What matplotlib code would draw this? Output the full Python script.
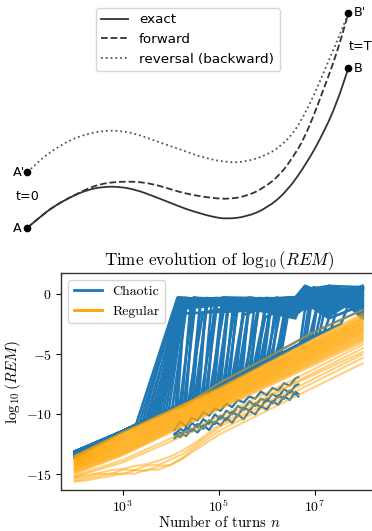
import matplotlib
matplotlib.use("Agg")
import matplotlib.pyplot as plt
from matplotlib.lines import Line2D
from matplotlib.path import Path
from matplotlib.patches import PathPatch
import numpy as np

# ---------------- top schematic data (horizontal position, vertical position; y grows downward) -------------
exact_x = [26.7, 40, 53.3, 70, 86.7, 103.3, 120, 136.7, 153, 170, 186.7, 200, 213.3, 226.7, 246.7, 266.7, 286.7, 306.7, 323.3, 336.7, 348.3]
exact_y = [228.3, 217, 206.7, 197.3, 190, 186.7, 186.7, 190, 196, 202.7, 209.3, 213.3, 217, 219, 216.7, 208.3, 191.7, 163.3, 133.3, 103.3, 68.3]
forward_x = [26.7, 40, 53.3, 70, 78, 88, 98, 110, 122, 136.7, 153, 170, 186.7, 213.3, 230, 246.7, 263.3, 280, 293.3, 303.3, 313.3, 321, 333.3, 341.7, 348.3]
forward_y = [228.3, 217, 206.7, 197.3, 193.5, 188.5, 184.8, 182.5, 181.7, 181.7, 184, 189, 194, 198.3, 199, 196, 188.3, 175, 156.7, 140, 116.7, 96, 63.3, 36.7, 13.3]
reversal_x = [27.3, 40, 53.3, 70, 86.7, 103.3, 120, 136.7, 153, 170, 186.7, 200, 226.7, 246.7, 266.7, 280, 293.3, 303.3, 313.3, 323.3, 333.3, 341.7, 348.3]
reversal_y = [172.3, 160, 150, 140, 134, 130.7, 130.7, 134, 140, 146, 151.7, 156.7, 162.7, 161.7, 155, 146.7, 133.3, 116.7, 96.7, 73.3, 50, 30, 13.3]
point_x = [26.7, 27.3, 348.3, 348.3]
point_y = [228.3, 172.3, 68.3, 13.3]
point_labels = ["A", "A'", "B", "B'"]

# ---------------- bottom chart data (log10 n, log10 REM) ----------------
# regular orbits: values at log10 n = 2, 3, 5, 8
reg_n = [2, 3, 5, 8]
reg_curves = [
    (-13.45, -11.5, -7.8, -1.6), (-13.5, -11.55, -7.85, -1.75), (-13.55, -11.6, -7.9, -1.85),
    (-13.6, -11.7, -8.0, -1.95), (-13.65, -11.75, -8.05, -2.05), (-13.7, -11.85, -8.1, -2.1),
    (-13.75, -11.9, -8.2, -2.2), (-13.8, -12.0, -8.25, -2.3), (-13.85, -12.05, -8.3, -2.35),
    (-13.9, -12.15, -8.4, -2.45), (-13.95, -12.2, -8.45, -2.5), (-14.0, -12.3, -8.5, -2.6),
    (-14.05, -12.35, -8.6, -2.7), (-14.1, -12.45, -8.65, -2.75), (-14.15, -12.5, -8.7, -2.85),
    (-14.2, -12.6, -8.8, -2.9), (-14.25, -12.65, -8.85, -3.0), (-14.3, -12.75, -8.9, -3.1),
    (-14.35, -12.8, -9.0, -3.15), (-14.45, -12.9, -9.05, -3.25), (-14.5, -12.95, -9.1, -3.35),
    (-14.55, -13.05, -9.2, -3.45), (-14.6, -13.1, -9.25, -3.55), (-14.7, -13.2, -9.35, -3.65),
    (-14.75, -13.25, -9.4, -3.75), (-14.85, -13.35, -9.5, -3.85), (-14.95, -13.4, -9.6, -4.0),
    (-15.1, -13.8, -10.2, -4.2), (-15.2, -14.0, -10.5, -4.5),
]
# lower, wiggly regular orbits
wig_n = [2, 2.25, 2.5, 2.75, 3.0, 3.25, 3.5, 3.75, 4.0, 4.25, 4.5, 5.0, 6.5, 8.0]
wig_curves = [
    [-15.6, -15.5, -15.3, -15.15, -14.9, -14.95, -14.6, -14.6, -14.2, -13.7, -13.0, -11.7, -8.7, -5.75],
    [-15.5, -15.35, -15.15, -14.9, -15.0, -14.65, -14.7, -14.3, -14.2, -13.6, -12.8, -11.4, -8.3, -5.3],
    [-15.35, -15.2, -14.95, -15.0, -14.6, -14.65, -14.25, -14.2, -13.75, -13.3, -12.6, -11.1, -8.0, -5.0],
    [-15.25, -15.05, -14.9, -14.65, -14.55, -14.3, -14.15, -13.85, -13.5, -13.0, -12.4, -10.9, -7.6, -4.8],
]

# chaotic orbits: common early path, departure from the band, arrival on the plateau, plateau values
band_n = [2, 3, 4, 5, 6, 7]
band_top = [-13.3, -11.4, -9.6, -7.75, -5.6, -3.5]
chaotic_start = [-13.1, -13.2, -13.3, -13.15, -13.4, -13.25, -13.5, -13.2, -13.35, -13.6, -13.1, -13.45, -13.3, -13.55,
                 -13.2, -13.4, -13.1, -13.3, -13.5, -13.25, -13.15, -13.45, -13.35, -13.6,
                 -13.2, -13.3, -13.1, -13.4, -13.5, -13.25, -13.35, -13.15, -13.45, -13.3,
                 -13.2, -13.55, -13.4, -13.1, -13.3, -13.25, -13.2, -13.4, -13.3, -13.5,
                 -13.15, -13.35, -13.25, -13.45, -13.1, -13.3, -13.2, -13.4, -13.3, -13.5,
                 -13.15, -13.35, -13.25, -13.45, -13.1, -13.3, -13.2, -13.4, -13.3, -13.5,
                 -13.2, -13.4, -13.3, -13.5, -13.15, -13.35, -13.25, -13.45, -13.1, -13.3]
chaotic_jump_n = [3.28, 3.35, 3.42, 3.48, 3.53, 3.58, 3.63, 3.68, 3.73, 3.78, 3.84, 3.9, 3.96, 4.03,
                  4.10, 4.14, 4.19, 4.23, 4.28, 4.32, 4.37, 4.41, 4.46, 4.50,
                  4.55, 4.59, 4.64, 4.68, 4.73, 4.77, 4.82, 4.86, 4.91, 4.95,
                  5.00, 5.04, 5.09, 5.13, 5.18, 5.22, 5.27, 5.31, 5.36, 5.40,
                  5.45, 5.49, 5.54, 5.58, 5.63, 5.67, 5.72, 5.76, 5.81, 5.85,
                  5.90, 5.94, 5.99, 6.03, 6.08, 6.12, 6.17, 6.21, 6.26, 6.30,
                  6.7, 6.76, 6.82, 6.88, 6.95, 7.02, 7.1, 7.2, 7.35, 7.55]
chaotic_jump_val = [-10.82, -10.7, -10.59, -10.48, -10.4, -10.31, -10.23, -10.14, -10.06, -9.97, -9.87, -9.77, -9.67, -9.55,
                    -9.42, -9.34, -9.25, -9.17, -9.08, -9.01, -8.92, -8.84, -8.75, -8.68,
                    -8.58, -8.51, -8.42, -8.34, -8.25, -8.18, -8.08, -8.01, -7.92, -7.84,
                    -7.75, -7.66, -7.56, -7.47, -7.36, -7.28, -7.17, -7.08, -6.98, -6.89,
                    -6.78, -6.70, -6.59, -6.50, -6.40, -6.31, -6.20, -6.12, -6.01, -5.92,
                    -5.82, -5.73, -5.62, -5.54, -5.43, -5.35, -5.24, -5.16, -5.05, -4.97,
                    -4.13, -4.0, -3.88, -3.75, -3.61, -3.46, -3.31, -3.12, -2.84, -2.46]
chaotic_peak_n = [4.14, 4.16, 4.15, 4.18, 4.17, 4.2, 4.19, 4.22, 4.2, 4.24, 4.23, 4.27, 4.3, 4.33,
                  4.30, 4.29, 4.47, 4.41, 4.52, 4.48, 4.67, 4.62, 4.63, 4.76,
                  4.75, 4.74, 4.92, 4.86, 4.97, 4.93, 5.12, 5.07, 5.08, 5.21,
                  5.20, 5.19, 5.37, 5.31, 5.42, 5.38, 5.57, 5.52, 5.53, 5.66,
                  5.65, 5.64, 5.82, 5.76, 5.87, 5.83, 6.02, 5.97, 5.98, 6.11,
                  6.10, 6.09, 6.27, 6.21, 6.32, 6.28, 6.47, 6.42, 6.43, 6.50,
                  6.85, 6.9, 6.98, 7.05, 7.1, 7.2, 7.3, 7.4, 7.55, 7.75]
chaotic_level = [-0.3, -0.5, -0.25, -0.8, -0.4, -1.2, -0.3, -0.6, -1.6, -0.35, -0.9, -0.5, -0.3, -1.0,
                 -0.4, -0.7, -0.3, -1.1, -0.5, -0.25, -1.5, -0.6, -0.35, -0.9,
                 -0.3, -0.5, -1.3, -0.4, -0.7, -0.3, -1.0, -0.5, -0.25, -0.8,
                 -0.45, -1.4, -0.3, -0.6, -0.4, -0.9, -0.3, -1.7, -0.5, -0.35,
                 -0.7, -0.25, -1.2, -0.55, -0.3, -0.8, -0.4, -1.9, -0.3, -0.6,
                 -0.35, -1.0, -0.5, -0.25, -0.75, -0.4, -1.3, -0.3, -0.6, -0.45,
                 0.3, -0.5, 0.6, -1.0, 0.2, -0.3, 0.5, -0.8, 0.1, -0.4]
plateau_n = [6.6, 6.8, 7.3, 8.0]
chaotic_p66 = [-0.6, -0.3, -1.0, -0.4, -1.8, -0.25, -0.7, -0.35, -1.2, -0.5, -0.3, -0.9, -1.5, -0.4,
               -0.3, -1.1, -0.5, -0.25, -0.8, -1.6, -0.4, -0.3, -1.0, -0.6,
               -2.0, -0.35, -0.7, -0.3, -1.3, -0.5, -0.25, -0.9, -0.4, -1.7,
               -0.3, -0.6, -1.1, -0.45, -0.3, -0.8, -0.5, -0.25, -1.4, -0.6,
               -0.35, -0.9, -0.3, -0.7, -1.2, -0.4, -0.25, -0.8, -0.5, -1.5,
               -0.3, -0.6, -0.4, -1.0, -0.3, -0.7, -0.5, -0.35, -0.9, -0.4,
               -0.5, -0.5, -0.5, -0.5, -0.5, -0.5, -0.5, -0.5, -0.5, -0.5]
chaotic_p68 = [0.5, -0.2, 0.2, -0.6, 0.7, 0.0, -0.3, 0.4, -1.0, 0.1, 0.6, -0.4, -0.1, 0.3,
               -0.5, 0.4, 0.0, 0.7, -0.2, -0.9, 0.3, -0.1, 0.5, -0.6,
               0.2, -1.3, 0.6, -0.3, 0.1, -0.7, 0.4, -0.2, 0.0, -1.1,
               0.5, -0.4, 0.2, -0.8, 0.3, -0.1, 0.6, -0.5, 0.1, -1.0,
               0.4, -0.3, 0.7, -0.6, 0.0, 0.3, -1.2, 0.5, -0.2, 0.2,
               -0.7, 0.6, -0.1, 0.3, -0.9, 0.4, 0.0, -0.4, 0.5, -0.3,
               0.0, 0.0, 0.0, 0.0, 0.0, 0.0, 0.0, 0.0, 0.0, 0.0]
chaotic_p73 = [-0.2, 0.6, -0.8, 0.3, -0.1, 0.7, -1.4, 0.0, 0.4, -0.5, 0.2, -1.8, 0.5, -0.3,
               0.1, -0.6, 0.5, -0.2, 0.7, -1.0, 0.3, -0.4, 0.0, 0.6,
               -1.5, 0.2, -0.7, 0.4, -0.1, -2.0, 0.5, -0.3, 0.3, -0.9,
               0.0, 0.6, -1.2, 0.2, -0.5, 0.4, -0.8, 0.7, -0.2, 0.1,
               -1.4, 0.5, -0.4, 0.2, -0.6, 0.6, -0.1, -1.7, 0.3, -0.3,
               0.5, -1.0, 0.1, 0.4, -0.5, 0.7, -1.3, 0.2, -0.2, 0.3,
               0.4, -0.6, 0.1, -1.2, 0.5, -0.2, 0.0, -1.5, 0.3, -0.8]
chaotic_p80 = [0.3, -0.4, 0.6, -1.0, 0.1, -0.2, 0.5, -1.6, 0.2, -0.6, 0.4, -0.1, -2.0, 0.7,
               -0.3, 0.5, -0.8, 0.2, -0.1, 0.6, -1.3, 0.3, -0.5, 0.0,
               0.4, -1.8, 0.1, -0.4, 0.6, -0.9, 0.2, -0.2, 0.5, -1.1,
               0.3, -0.6, 0.0, 0.4, -1.4, 0.1, 0.6, -0.7, 0.2, -0.3,
               0.5, -1.0, 0.3, -0.5, 0.7, -0.1, -1.6, 0.4, -0.2, 0.1,
               -0.8, 0.5, -0.4, 0.2, -1.2, 0.6, 0.0, -0.6, 0.3, -0.9,
               0.2, -0.3, 0.5, -0.7, 0.0, -1.2, 0.4, -0.5, 0.6, -1.0]
# chaotic orbits that stay low and stop early
stranded_n = [4.08, 4.2, 4.32, 4.44, 4.56, 4.68, 4.8, 4.92, 5.04, 5.16, 5.28, 5.4, 5.52, 5.64,
              5.76, 5.88, 6.0, 6.12, 6.24, 6.36, 6.48, 6.6, 6.66]
stranded_curves = [
    [-11.3, -10.6, -11.0, -10.3, -10.5, -9.8, -10.1, -9.5, -9.7, -9.1, -9.4, -8.8, -9.0, -8.5, -8.7, -8.1, -8.4, -7.8, -8.0, -7.4, -7.6, -7.0, -6.9],
    [-11.7, -11.2, -11.5, -10.7, -11.1, -10.4, -10.8, -10.0, -10.4, -9.7, -10.0, -9.3, -9.6, -8.9, -9.3, -8.7, -8.9, -8.3, -8.6, -7.9, -8.2, -7.6, -7.5],
    [-12.0, -11.5, -11.8, -11.2, -11.5, -10.9, -11.3, -10.6, -10.9, -10.3, -10.7, -10.0, -10.4, -9.7, -10.0, -9.3, -9.6, -8.9, -9.2, -8.5, -8.8, -8.1, -8.3],
    [-11.6, -11.9, -11.1, -11.4, -10.8, -11.2, -10.5, -10.8, -10.1, -10.5, -9.8, -10.1, -9.4, -9.7, -9.1, -9.4, -8.7, -9.1, -8.4, -8.7, -8.0, -8.3, -8.5],
]
upper_n = [4.2, 4.4, 5.0, 6.0, 7.0, 8.0]
upper_val = [-9.4, -9.0, -7.4, -5.3, -3.1, -1.3]

x_ticks = [1e3, 1e5, 1e7]
y_ticks = [0, -5, -10, -15]

BLUE = "#1f77b4"
ORANGE = "orange"

plt.rcParams["font.family"] = "cmr10"
plt.rcParams["mathtext.fontset"] = "cm"
plt.rcParams["axes.formatter.use_mathtext"] = True

W, H = 372, 531
fig = plt.figure(figsize=(W / 100, H / 100), dpi=100)

# ---------------- top schematic ----------------
top_h = 245
ax0 = fig.add_axes([0, 1 - top_h / H, 1, top_h / H])
ax0.set_xlim(0, W)
ax0.set_ylim(top_h, 0)
ax0.axis("off")


def smooth(xs, ys):
    verts = [(xs[0], ys[0])]
    codes = [Path.MOVETO]
    for i in range(1, len(xs) - 1):
        verts += [(xs[i], ys[i]), ((xs[i] + xs[i + 1]) / 2, (ys[i] + ys[i + 1]) / 2)]
        codes += [Path.CURVE3, Path.CURVE3]
    verts.append((xs[-1], ys[-1]))
    codes.append(Path.LINETO)
    return Path(verts, codes)


styles = [("exact", exact_x, exact_y, "-", "#333333"),
          ("forward", forward_x, forward_y, "--", "#333333"),
          ("reversal (backward)", reversal_x, reversal_y, ":", "#555555")]
handles0 = []
for lab, xs, ys, ls, col in styles:
    ax0.add_patch(PathPatch(smooth(xs, ys), fill=False, edgecolor=col, lw=1.3, linestyle=ls))
    handles0.append(Line2D([], [], color=col, lw=1.3, linestyle=ls))
ax0.plot(point_x, point_y, "o", color="black", ms=4.5, zorder=5)
sans = {"family": "DejaVu Sans", "fontsize": 9.2}
ax0.text(21.5, 229, point_labels[0], ha="right", va="center", **sans)
ax0.text(25.5, 173, point_labels[1], ha="right", va="center", **sans)
ax0.text(28, 197, "t=0", ha="center", va="center", **sans)
ax0.text(353.5, 68, point_labels[2], ha="left", va="center", **sans)
ax0.text(353.5, 13, point_labels[3], ha="left", va="center", **sans)
ax0.text(348.5, 47, "t=T", ha="left", va="center", **sans)
ax0.legend(handles0, [s[0] for s in styles], loc="upper left", bbox_to_anchor=(96 / W, 1 - 8 / top_h),
           borderaxespad=0, prop={"family": "DejaVu Sans", "size": 9.7}, handlelength=2.0)

# ---------------- bottom chart ----------------
left, right, top, bottom = 61.3, 377.0, 273.0, 490.0
ax = fig.add_axes([left / W, 1 - bottom / H, (right - left) / W, (bottom - top) / H])
ax.set_xscale("log")

lw_c = 1.9
lw_r = 1.5
for i in range(len(chaotic_start)):
    xs = [2.0]
    ys = [chaotic_start[i]]
    for bn, bv in zip(band_n[1:], band_top[1:]):
        if bn < chaotic_jump_n[i]:
            xs.append(bn)
            ys.append(bv)
    xs += [chaotic_jump_n[i], chaotic_peak_n[i]]
    ys += [chaotic_jump_val[i], chaotic_level[i]]
    for pn, pv in zip(plateau_n, [chaotic_p66[i], chaotic_p68[i], chaotic_p73[i], chaotic_p80[i]]):
        if pn > chaotic_peak_n[i]:
            xs.append(pn)
            ys.append(pv)
    ax.plot(np.power(10.0, xs), ys, color=BLUE, lw=lw_c, zorder=2)
for c in stranded_curves:
    ax.plot(np.power(10.0, stranded_n), c, color=BLUE, lw=1.6, zorder=2)
ax.plot(np.power(10.0, upper_n), upper_val, color=BLUE, lw=1.6, zorder=2)

for c in reg_curves:
    ax.plot(np.power(10.0, reg_n), c, color=ORANGE, lw=lw_r, alpha=0.5, zorder=3)
for c in wig_curves:
    ax.plot(np.power(10.0, wig_n), c, color=ORANGE, lw=lw_r, alpha=0.5, zorder=3)
ax.plot(np.power(10.0, upper_n), upper_val, color=ORANGE, lw=lw_r, alpha=0.5, zorder=3)

ax.set_xlim(10 ** 1.72, 10 ** 8.3)
ax.set_ylim(-16.3, 1.78)
ax.set_xticks(x_ticks)
ax.xaxis.set_minor_locator(matplotlib.ticker.NullLocator())
ax.set_yticks(y_ticks)
ax.tick_params(labelsize=10)
ax.tick_params(axis="x", pad=3)
for s in ax.spines.values():
    s.set_linewidth(1.0)
    s.set_color("#333333")
ax.set_title(r"Time evolution of $\log_{10}(REM)$", fontsize=12.2)
ax.set_xlabel(r"Number of turns $n$", fontsize=10.6, labelpad=-1.0)
ax.set_ylabel(r"$\log_{10}(REM)$", fontsize=11, labelpad=2)
handles = [Line2D([], [], color=BLUE, lw=2), Line2D([], [], color=ORANGE, lw=2)]
ax.legend(handles, ["Chaotic", "Regular"], loc="upper left", fontsize=10)

fig.savefig("out.png", dpi=100)
